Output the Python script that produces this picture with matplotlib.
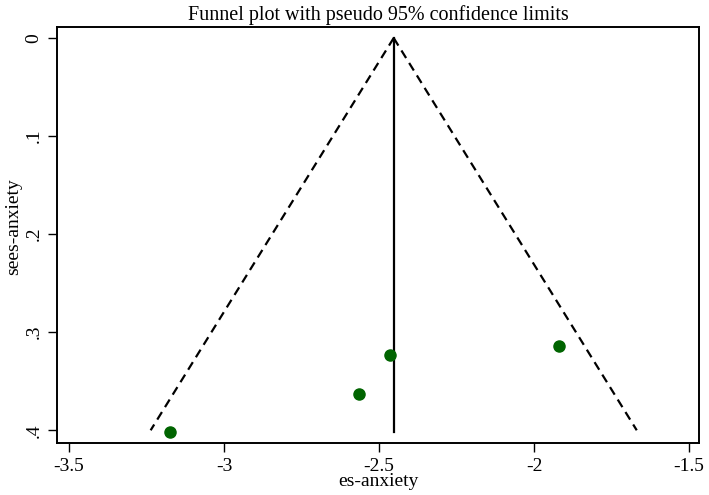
import matplotlib.pyplot as plt
import numpy as np

# study estimates and standard errors
es = [-3.174, -2.565, -2.465, -1.919]
se = [0.402, 0.363, 0.3235, 0.314]
pooled = -2.453
se_funnel = 0.4
xticks = [-3.5, -3, -2.5, -2, -1.5]
xticklabels = ["-3.5", "-3", "-2.5", "-2", "-1.5"]
yticks = [0, 0.1, 0.2, 0.3, 0.4]
yticklabels = ["0", ".1", ".2", ".3", ".4"]

plt.rcParams['font.family'] = ['Liberation Serif', 'DejaVu Serif']

fig = plt.figure(figsize=(7.09, 4.95), dpi=100)
ax = fig.add_axes([0.0804, 0.105, 0.9056, 0.840])

s = np.array([0, se_funnel])
ax.plot(pooled - 1.96 * s, s, color='black', lw=1.6, ls=(0, (4, 2.6)))
ax.plot(pooled + 1.96 * s, s, color='black', lw=1.6, ls=(0, (4, 2.6)))
ax.plot([pooled, pooled], [0, max(se)], color='black', lw=1.6)
ax.plot(es, se, 'o', color='#006400', ms=8, mec='#006400')

ax.set_xlim(-3.539, -1.468)
ax.set_ylim(0.413, -0.011)
ax.set_xticks(xticks)
ax.set_xticklabels(xticklabels)
ax.set_yticks(yticks)
ax.set_yticklabels(yticklabels, rotation=90, va='center')
ax.tick_params(direction='out', length=6.5, width=1, labelsize=14, pad=4)

for sp in ax.spines.values():
    sp.set_linewidth(1.4)

ax.set_xlabel("es-anxiety", fontsize=14, labelpad=-1)
ax.set_ylabel("sees-anxiety", fontsize=14)
ax.yaxis.set_label_coords(-0.054, 0.52)
ax.set_title("Funnel plot with pseudo 95% confidence limits", fontsize=14.5, pad=5)

fig.savefig("out.png", dpi=100)
